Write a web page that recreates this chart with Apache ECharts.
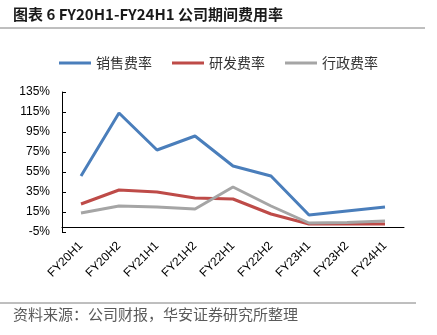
<!DOCTYPE html>
<html>
<head>
<meta charset="utf-8">
<style>
  html, body { margin: 0; padding: 0; background: #fff; }
  #chart { width: 437px; height: 335px; }
</style>
<script src="https://cdn.jsdelivr.net/npm/echarts@6/dist/echarts.min.js"></script>
</head>
<body>
<div id="chart"></div>
<script>
// Expense ratios by half-year period (%)
const periods = ['FY20H1', 'FY20H2', 'FY21H1', 'FY21H2', 'FY22H1', 'FY22H2', 'FY23H1', 'FY23H2', 'FY24H1'];
const sellingRate = [51, 114, 77, 91, 61, 51, 12, 16, 20];
const rdRate = [23, 37, 35, 29, 28, 13, 3, 3, 3];
const adminRate = [14, 21, 20, 18, 40, 21, 4, 4.5, 6];
const seriesNames = ['销售费率', '研发费率', '行政费率'];

const chart = echarts.init(document.getElementById('chart'), null, { renderer: 'canvas' });

const cjk = '"Noto Sans CJK SC", sans-serif';
const latin = '"Liberation Sans", Arial, sans-serif';

function lineSeries(name, data, color) {
  return {
    name: name,
    type: 'line',
    data: data,
    symbol: 'none',
    lineStyle: { color: color, width: 3 },
    itemStyle: { color: color }
  };
}

chart.setOption({
  animation: false,
  graphic: [
    { type: 'text', left: 13, top: 7,
      style: { text: '图表 6 FY20H1-FY24H1 公司期间费用率', font: 'bold 15px ' + cjk, fill: '#1a1a1a' } },
    { type: 'line', shape: { x1: 0, y1: 28, x2: 425, y2: 28 }, style: { stroke: '#7f7f7f', lineWidth: 1 } },
    { type: 'line', shape: { x1: 0, y1: 303, x2: 416, y2: 303 }, style: { stroke: '#7f7f7f', lineWidth: 1 } },
    { type: 'text', left: 13, top: 307,
      style: { text: '资料来源：公司财报，华安证券研究所整理', font: '15px ' + cjk, fill: '#5a5a5a' } }
  ],
  legend: {
    top: 51,
    left: 'center',
    itemWidth: 32,
    itemHeight: 3,
    itemGap: 20,
    icon: 'rect',
    textStyle: { fontFamily: cjk, fontSize: 14, color: '#333' },
    data: seriesNames
  },
  grid: { left: 62, right: 33, top: 92, bottom: 103, containLabel: false },
  xAxis: {
    type: 'category',
    data: periods,
    boundaryGap: true,
    axisLine: { lineStyle: { color: '#000', width: 1 } },
    axisTick: { show: false },
    axisLabel: { rotate: 45, fontFamily: latin, fontSize: 12, color: '#000', margin: 12, interval: 0 }
  },
  yAxis: {
    type: 'value',
    min: -5,
    max: 135,
    interval: 20,
    splitLine: { show: false },
    axisLine: { show: true, lineStyle: { color: '#000', width: 1 } },
    axisTick: { show: true, inside: true, length: 4, lineStyle: { color: '#000' } },
    axisLabel: { formatter: '{value}%', fontFamily: latin, fontSize: 12, color: '#000', margin: 12 }
  },
  series: [
    lineSeries(seriesNames[0], sellingRate, '#4a7ebb'),
    lineSeries(seriesNames[1], rdRate, '#be4b48'),
    lineSeries(seriesNames[2], adminRate, '#a5a5a5')
  ]
});
</script>
</body>
</html>
